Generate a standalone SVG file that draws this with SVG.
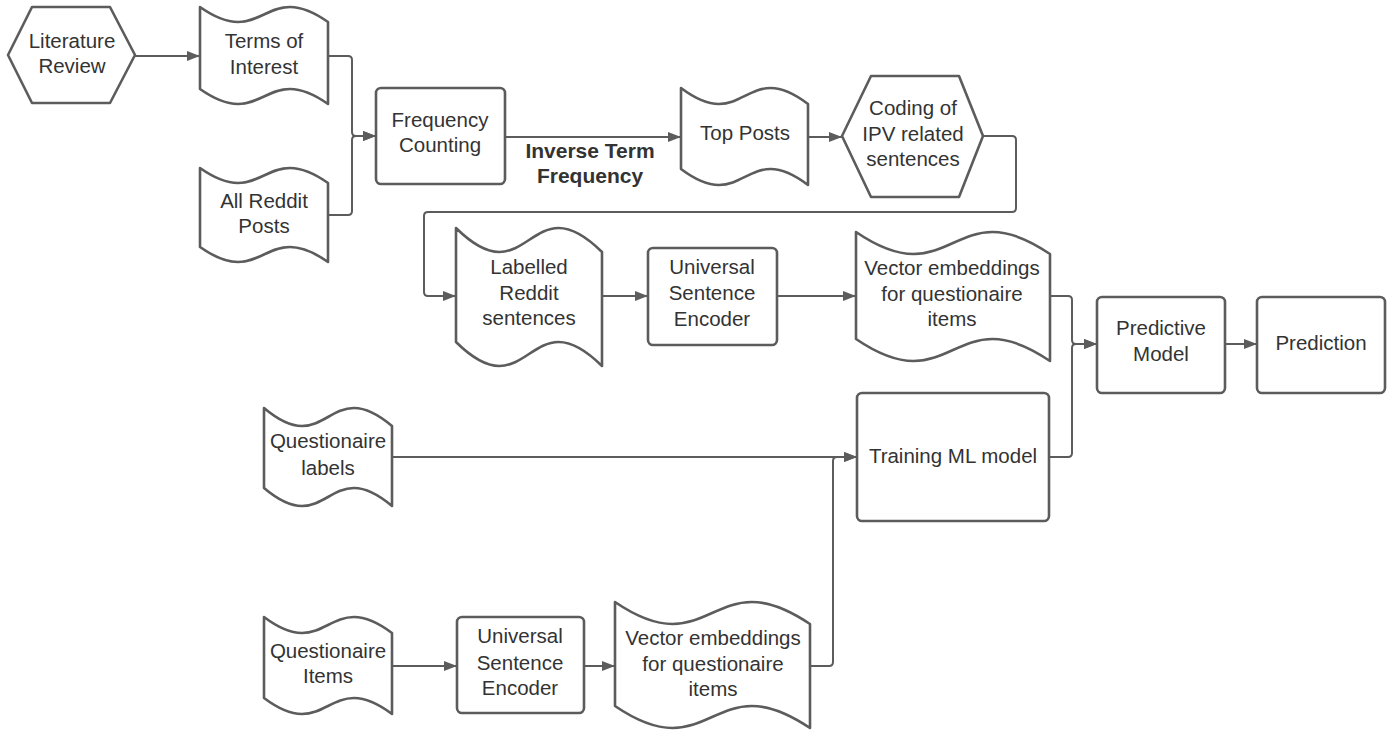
<svg xmlns="http://www.w3.org/2000/svg" width="1388" height="730" viewBox="0 0 1388 730">
<defs>
<marker id="arr" markerUnits="userSpaceOnUse" markerWidth="13" markerHeight="10" refX="13" refY="5" orient="auto">
<path d="M0,0 L13,5 L0,10 Z" fill="#5c5c5c"/>
</marker>
<style>
.shape{fill:#ffffff;stroke:#5c5c5c;stroke-width:2.6;stroke-linejoin:round}
.conn{fill:none;stroke:#5c5c5c;stroke-width:2}
.t{font-family:"Liberation Sans",Arial,sans-serif;font-size:20.5px;fill:#333333;text-anchor:middle}
.b{font-weight:bold;font-size:21px}
</style>
</defs>
<rect width="1388" height="730" fill="#ffffff"/>
<g id="connectors">
<path class="conn" d="M135,56 H200" marker-end="url(#arr)"/>
<path class="conn" d="M328,56 H348 Q352,56 352,60 V132 Q352,136 356,136 H376" marker-end="url(#arr)"/>
<path class="conn" d="M328,215 H348 Q352,215 352,211 V140 Q352,136 356,136 H376" marker-end="url(#arr)"/>
<path class="conn" d="M505,137 H681" marker-end="url(#arr)"/>
<path class="conn" d="M808,137 H842" marker-end="url(#arr)"/>
<path class="conn" d="M983,136 H1012 Q1016,136 1016,140 V208 Q1016,212 1012,212 H428 Q424,212 424,216 V292 Q424,296 428,296 H456" marker-end="url(#arr)"/>
<path class="conn" d="M602,296 H648" marker-end="url(#arr)"/>
<path class="conn" d="M777,296 H856" marker-end="url(#arr)"/>
<path class="conn" d="M1050,296 H1068 Q1072,296 1072,300 V340 Q1072,344 1076,344 H1097" marker-end="url(#arr)"/>
<path class="conn" d="M1049,457 H1068 Q1072,457 1072,453 V348 Q1072,344 1076,344 H1097" marker-end="url(#arr)"/>
<path class="conn" d="M1225,344 H1257" marker-end="url(#arr)"/>
<path class="conn" d="M392,457 H857" marker-end="url(#arr)"/>
<path class="conn" d="M392,666 H457" marker-end="url(#arr)"/>
<path class="conn" d="M584,666 H615" marker-end="url(#arr)"/>
<path class="conn" d="M810,666 H829 Q833,666 833,662 V461 Q833,457 837,457 H857" marker-end="url(#arr)"/>
<text class="t b" x="590" y="158">Inverse Term</text>
<text class="t b" x="590" y="183">Frequency</text>
</g>
<g id="literature-review">
<polygon class="shape" points="8,55 32,7 110,7 135,55 110,103 32,103"/>
<text class="t" x="72" y="48">Literature</text>
<text class="t" x="72" y="73">Review</text>
</g>
<g id="terms-of-interest">
<path class="shape" d="M200,7 C264,52 264,-23 328,22 L328,104 C264,59 264,134 200,89 Z"/>
<text class="t" x="264" y="48">Terms of</text>
<text class="t" x="264" y="74">Interest</text>
</g>
<g id="all-reddit-posts">
<path class="shape" d="M200,168 C264,213 264,138 328,183 L328,262 C264,217 264,292 200,247 Z"/>
<text class="t" x="264" y="208">All Reddit</text>
<text class="t" x="264" y="233">Posts</text>
</g>
<g id="frequency-counting">
<rect class="shape" x="376" y="88" width="129" height="96" rx="5"/>
<text class="t" x="440" y="127">Frequency</text>
<text class="t" x="440" y="152">Counting</text>
</g>
<g id="top-posts">
<path class="shape" d="M681,88 C745,136 745,56 808,104 L808,185 C745,137 745,217 681,169 Z"/>
<text class="t" x="745" y="140">Top Posts</text>
</g>
<g id="coding-ipv">
<polygon class="shape" points="842,136 871,76 959,76 983,136 959,197 871,197"/>
<text class="t" x="913" y="115">Coding of</text>
<text class="t" x="913" y="141">IPV related</text>
<text class="t" x="913" y="166">sentences</text>
</g>
<g id="labelled-reddit">
<path class="shape" d="M456,228 C529,300 529,180 602,252 L602,366 C529,294 529,414 456,342 Z"/>
<text class="t" x="529" y="274">Labelled</text>
<text class="t" x="529" y="300">Reddit</text>
<text class="t" x="529" y="325">sentences</text>
</g>
<g id="use-top">
<rect class="shape" x="648" y="248" width="129" height="97" rx="5"/>
<text class="t" x="712" y="274">Universal</text>
<text class="t" x="712" y="300">Sentence</text>
<text class="t" x="712" y="326">Encoder</text>
</g>
<g id="vector-top">
<path class="shape" d="M856,232 C953,298 953,188 1050,254 L1050,361 C953,295 953,405 856,339 Z"/>
<text class="t" x="952" y="275">Vector embeddings</text>
<text class="t" x="952" y="301">for questionaire</text>
<text class="t" x="952" y="326">items</text>
</g>
<g id="predictive-model">
<rect class="shape" x="1097" y="297" width="128" height="96" rx="5"/>
<text class="t" x="1161" y="335">Predictive</text>
<text class="t" x="1161" y="361">Model</text>
</g>
<g id="prediction">
<rect class="shape" x="1257" y="297" width="128" height="96" rx="5"/>
<text class="t" x="1321" y="350">Prediction</text>
</g>
<g id="training-ml">
<rect class="shape" x="857" y="393" width="192" height="128" rx="5"/>
<text class="t" x="953" y="463">Training ML model</text>
</g>
<g id="questionaire-labels">
<path class="shape" d="M264,408 C328,462 328,372 392,426 L392,506 C328,452 328,542 264,488 Z"/>
<text class="t" x="328" y="448">Questionaire</text>
<text class="t" x="328" y="475">labels</text>
</g>
<g id="questionaire-items">
<path class="shape" d="M264,617 C328,665 328,585 392,633 L392,714 C328,666 328,746 264,698 Z"/>
<text class="t" x="328" y="658">Questionaire</text>
<text class="t" x="328" y="683">Items</text>
</g>
<g id="use-bottom">
<rect class="shape" x="457" y="617" width="127" height="96" rx="5"/>
<text class="t" x="520" y="643">Universal</text>
<text class="t" x="520" y="670">Sentence</text>
<text class="t" x="520" y="695">Encoder</text>
</g>
<g id="vector-bottom">
<path class="shape" d="M615,602 C712,668 712,558 810,624 L810,728 C712,662 712,772 615,706 Z"/>
<text class="t" x="713" y="645">Vector embeddings</text>
<text class="t" x="713" y="671">for questionaire</text>
<text class="t" x="713" y="696">items</text>
</g>
</svg>
